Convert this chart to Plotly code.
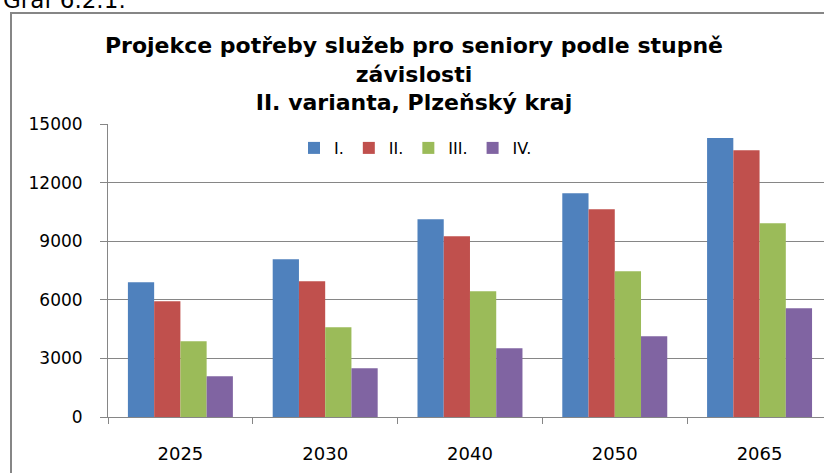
import plotly.graph_objects as go

years = ["2025", "2030", "2040", "2050", "2065"]
series_names = ["I.", "II.", "III.", "IV."]
values_I = [6900, 8080, 10120, 11450, 14280]
values_II = [5920, 6950, 9250, 10630, 13660]
values_III = [3880, 4590, 6440, 7460, 9920]
values_IV = [2090, 2500, 3520, 4130, 5570]
colors = ["#4F81BD", "#C0504D", "#9BBB59", "#8064A2"]
y_ticks = [0, 3000, 6000, 9000, 12000, 15000]

W, H = 824, 473
ML, MR, MT, MB = 108, 0, 124, 56
PW, PH = W - ML - MR, H - MT - MB

def px_to_paper_x(px):
    return (px - ML) / PW

def px_to_paper_y(py):
    return (H - MB - py) / PH

fig = go.Figure()
for name, vals, col in zip(series_names, [values_I, values_II, values_III, values_IV], colors):
    fig.add_trace(go.Bar(x=years, y=vals, name=name, marker=dict(color=col, line=dict(width=0))))

font_family = "DejaVu Sans, Verdana, sans-serif"
grid_col = "#868686"

fig.update_layout(
    width=W, height=H,
    margin=dict(l=ML, r=MR, t=MT, b=MB, pad=0, autoexpand=False),
    paper_bgcolor="white", plot_bgcolor="white",
    barmode="group", bargap=0.275, bargroupgap=0,
    font=dict(family=font_family, size=17, color="black"),
    showlegend=True,
    legend=dict(orientation="h", x=px_to_paper_x(294), y=px_to_paper_y(131), xanchor="left", yanchor="top",
                font=dict(size=16), bgcolor="rgba(0,0,0,0)", traceorder="normal"),
    title=dict(
        text="<b>Projekce potřeby služeb pro seniory podle stupně<br>závislosti<br>II. varianta, Plzeňský kraj</b>",
        x=414 / W, xanchor="center", xref="container",
        y=1 - 53 / H, yanchor="top", yref="container",
        font=dict(family=font_family, size=22, color="black"),
    ),
    xaxis=dict(
        type="category", range=[-0.5, 4.445], automargin=False,
        showline=True, linecolor=grid_col, linewidth=1,
        ticks="outside", tickson="boundaries", ticklen=6, tickcolor=grid_col,
        showgrid=False, ticklabelstandoff=20,
        tickfont=dict(size=18),
    ),
    yaxis=dict(
        range=[0, 15000], tickvals=y_ticks, tickformat="d", automargin=False,
        showline=True, linecolor=grid_col, linewidth=1,
        ticks="outside", ticklen=7, tickcolor=grid_col,
        showgrid=True, gridcolor=grid_col, gridwidth=1, zeroline=False,
        ticklabelstandoff=14, tickfont=dict(size=17),
    ),
)

# outer chart frame (cropped at right and bottom)
fig.add_shape(type="line", xref="paper", yref="paper",
              x0=px_to_paper_x(11), x1=px_to_paper_x(11), y0=px_to_paper_y(12), y1=px_to_paper_y(480),
              line=dict(color=grid_col, width=2))
fig.add_shape(type="line", xref="paper", yref="paper",
              x0=px_to_paper_x(10), x1=px_to_paper_x(830), y0=px_to_paper_y(13), y1=px_to_paper_y(13),
              line=dict(color=grid_col, width=2))

# partially cropped caption at the very top
fig.add_annotation(text="Graf 6.2.1:", xref="paper", yref="paper",
                   x=px_to_paper_x(1), y=px_to_paper_y(15), xanchor="left", yanchor="bottom",
                   showarrow=False, font=dict(family=font_family, size=23, color="black"))

fig.write_html("out.html", config={"displayModeBar": False},
               post_script="document.body.style.margin='0';document.body.style.overflow='hidden';")
